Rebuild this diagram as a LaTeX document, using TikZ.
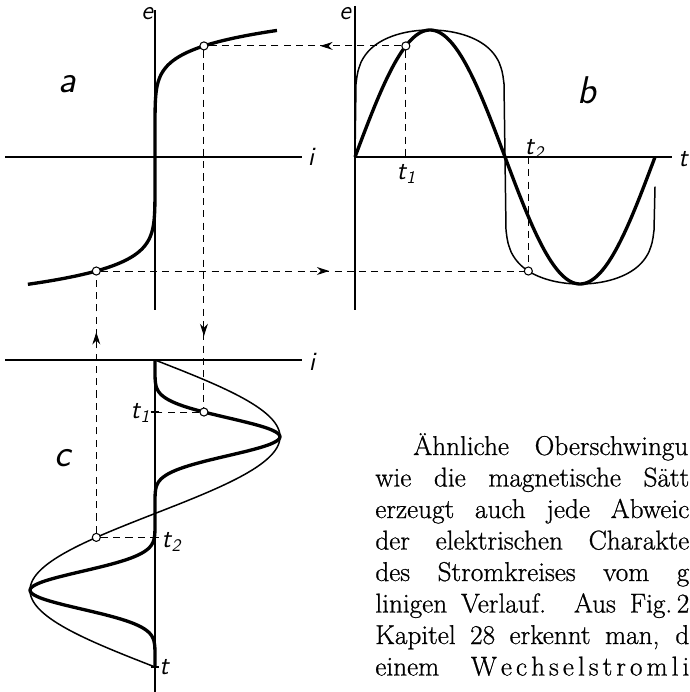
\documentclass[tikz,border=0pt]{standalone}
\usepackage{fontspec}
\newfontfamily\bookfont[FakeBold=0.8]{Latin Modern Roman}
\usetikzlibrary{arrows.meta,decorations.markings}
\newcommand{\tsub}[1]{t\kern0.3pt\raisebox{-0.4ex}{\fontsize{10}{10}\selectfont#1}}
\newcommand{\lsp}{\kern2.3pt}

\begin{document}
\begin{tikzpicture}[x=0.02cm, y=-0.02cm, >=Stealth,
  declare function={sat(\u)=\u*\u*\u*\u*\u*\u*\u;},
  ax/.style={line width=0.6pt},
  heavy/.style={line width=1.9pt, line join=round},
  light/.style={line width=0.85pt, line join=round},
  guide/.style={line width=0.55pt, dash pattern=on 4pt off 3pt},
  midarrow/.style={postaction={decorate},
    decoration={markings, mark=at position #1 with {\arrow{Stealth[length=7pt,width=4.5pt]}}}},
  knot/.style={circle,draw,fill=white,line width=0.6pt,inner sep=0pt,minimum size=4.6pt},
  lbl/.style={font=\sffamily\itshape\fontsize{15}{15}\selectfont,inner sep=0pt},
  panel/.style={font=\sffamily\itshape\fontsize{22}{22}\selectfont,inner sep=0pt},
  txtline/.style={anchor=base west,inner sep=0pt,font=\bookfont\fontsize{15.5}{15.5}\selectfont}]
  \useasboundingbox (0,0) rectangle (689,692);
  \clip (0,0) rectangle (689,692);
  % the two instants (degrees) and the time scale of c (px per degree)
  \pgfmathsetmacro{\tA}{61}
  \pgfmathsetmacro{\tB}{208}
  \pgfmathsetmacro{\kc}{307/360}
  \pgfmathsetmacro{\eA}{sin(\tA)}
  \pgfmathsetmacro{\iA}{sat(\eA)}
  \pgfmathsetmacro{\iB}{sin(\tB)}
  \pgfmathsetmacro{\eB}{-pow(-\iB,1/7)}
  %--- a (top left) ---
  \draw[ax] (155,10) -- (155,310);
  \draw[ax] (5,157) -- (302,157);
  \node[lbl] (ea) at (147,14) {e};
  \node[lbl] (ia) at (311,157) {i};
  \node[panel] (la) at (67,84) {a};
  \draw[heavy] plot[domain=-1.0024:0.9976, samples=201, smooth] ({155+125*sat(\x)}, {157-127*\x});
  %--- b (top right) ---
  \draw[ax] (355,6) -- (355,310);
  \draw[ax] (355,157) -- (672,157);
  \node[lbl] (eb) at (345,14) {e};
  \node[lbl] (tt) at (683,159) {t};
  \node[panel] (lb) at (587,90) {b};
  \draw[light] plot[domain=0:300, samples=301]
    ({355+\x}, {157-127*sign(sin(1.2*\x))*pow(abs(sin(1.2*\x))+0.00001,1/7)});
  \draw[heavy] plot[domain=0:300, samples=151, smooth] ({355+\x}, {157-127*sin(1.2*\x)});
  \node[lbl] (t1b) at ({355+\tA/1.2},174) {\tsub{1}};
  \node[lbl] (t2b) at (534,149) {\tsub{2}};
  %--- c (bottom left) ---
  \draw[ax] (5,360) -- (302,360);
  \draw[ax] (155,360) -- (155,692);
  \node[lbl] (ic) at (312,362) {i};
  \node[panel] (lc) at (63,458) {c};
  \draw[light] plot[domain=0:307, samples=161, smooth] ({155+125*sin(\x/\kc)}, {360+\x});
  \draw[heavy] plot[domain=0:307, samples=201, smooth] ({155+125*sat(sin(\x/\kc))}, {360+\x});
  \node[lbl] (t1c) at (140,413) {\tsub{1}};
  \node[lbl] (t2c) at (171,542) {\tsub{2}};
  \node[lbl] (tc) at (164,667) {t};
  %--- construction points ---
  \node[knot] (pb1) at ({355+\tA/1.2}, {157-127*\eA}) {};
  \node[knot] (pa1) at ({155+125*\iA}, {157-127*\eA}) {};
  \node[knot] (pc1) at ({155+125*\iA}, {360+\tA*\kc}) {};
  \node[knot] (pb2) at ({355+\tB/1.2}, {157-127*\eB}) {};
  \node[knot] (pa2) at ({155+125*\iB}, {157-127*\eB}) {};
  \node[knot] (pc2) at ({155+125*\iB}, {360+\tB*\kc}) {};
  \coordinate (fb1) at ({355+\tA/1.2},157);
  \coordinate (fb2) at ({355+\tB/1.2},157);
  \coordinate (fc1) at (155,{360+\tA*\kc});
  \coordinate (fc2) at (155,{360+\tB*\kc});
  \coordinate (fc3) at (155,667);
  \foreach \f in {fc1,fc2,fc3} \draw[ax] ([xshift=-2.5pt]\f) -- ([xshift=2.5pt]\f);
  \draw[guide, midarrow=0.42] (pb1) -- (pa1);
  \draw[guide, midarrow=0.54] (pa2) -- (pb2);
  \draw[guide, midarrow=0.80] (pa1) -- (pc1);
  \draw[guide, midarrow=0.78] (pc2) -- (pa2);
  \draw[guide] (pb1) -- (fb1);
  \draw[guide] (fb2) -- (pb2);
  \draw[guide] (pc1) -- (fc1);
  \draw[guide] (pc2) -- (fc2);
  %--- running text ---
  \node[txtline] (l1) at (413,455) {\makebox[5.5cm][s]{Ähnliche Oberschwingu}};
  \node[txtline] (l2) at (375,486.5) {\makebox[6.28cm][s]{wie die magnetische Sätt}};
  \node[txtline] (l3) at (375,518) {\makebox[6.28cm][s]{erzeugt auch jede Abweic}};
  \node[txtline] (l4) at (375,549.5) {\makebox[6.28cm][s]{der elektrischen Charakte}};
  \node[txtline] (l5) at (375,581) {\makebox[6.28cm][s]{des Stromkreises vom g}};
  \node[txtline] (l6) at (375,612.5) {\makebox[6.28cm][s]{linigen Verlauf. Aus Fig.\,2}};
  \node[txtline] (l7) at (375,644) {\makebox[6.28cm][s]{Kapitel 28 erkennt man, d}};
  \node[txtline] (l8) at (375,675.5) {\makebox[6.28cm][s]{einem W\lsp e\lsp c\lsp h\lsp s\lsp e\lsp l\lsp s\lsp t\lsp r\lsp o\lsp m\lsp l\lsp i}};
\end{tikzpicture}
\end{document}
